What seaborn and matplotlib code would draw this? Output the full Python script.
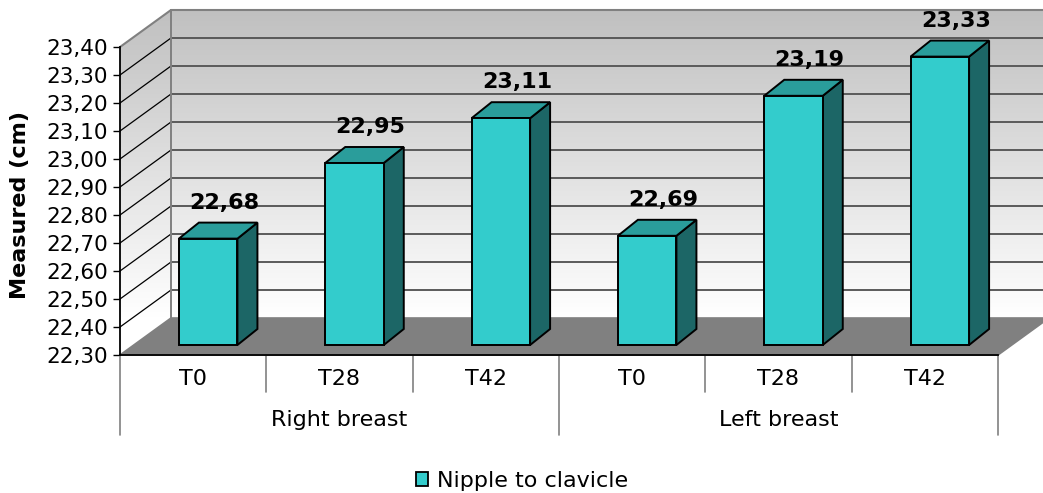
import numpy as np
import pandas as pd
import matplotlib
matplotlib.use("Agg")
import matplotlib.pyplot as plt
import seaborn as sns
from matplotlib.patches import Polygon, Patch
from matplotlib.lines import Line2D
from matplotlib.colors import LinearSegmentedColormap

# ---------------- data ----------------
groups = ["Right breast", "Left breast"]
timepoints = ["T0", "T28", "T42"]
nipple_to_clavicle = [22.68, 22.95, 23.11, 22.69, 23.19, 23.33]
y_ticks = [22.30, 22.40, 22.50, 22.60, 22.70, 22.80, 22.90,
           23.00, 23.10, 23.20, 23.30, 23.40]
series_name = "Nipple to clavicle"
y_label = "Measured (cm)"

# ---------------- style ----------------
sns.set_theme(style="white")
plt.rcParams["font.family"] = ["DejaVu Sans"]

FRONT = "#33CCCC"
TOP = "#2A9D9B"
SIDE = "#1C6666"
EDGE_LW = 1.4

W, H = 1043, 493
fig = plt.figure(figsize=(W / 100, H / 100), dpi=100)
px_l, px_r, px_b, px_t = 120, 998, 355, 47
ax = fig.add_axes([px_l / W, 1 - px_b / H, (px_r - px_l) / W, (px_b - px_t) / H])

n = len(groups) * len(timepoints)
ymin, ymax = y_ticks[0], y_ticks[-1]
xl, xr = -0.5, n - 0.5
sx = (xr - xl) / (px_r - px_l)
sy = (ymax - ymin) / (px_b - px_t)


def off(x, y, px, py):
    return (x + px * sx, y + py * sy)


DEPTH = (51, 37)
BAR_FRONT = (15, 10)
BAR_SIDE = (20, 16)

df = pd.DataFrame({
    "group": [g for g in groups for _ in timepoints],
    "time": timepoints * len(groups),
    "value": nipple_to_clavicle,
})
df["key"] = df["group"] + " " + df["time"]

# ---------------- bars (seaborn) ----------------
sns.barplot(data=df, x="key", y="value", order=list(df["key"]), color=FRONT,
            saturation=1, width=0.4, edgecolor="black", linewidth=EDGE_LW,
            errorbar=None, ax=ax, zorder=5)
bars = list(ax.containers[0])

# ---------------- walls ----------------
yb_back = ymin + DEPTH[1] * sy
yt_back = ymax + DEPTH[1] * sy
x_back_r = xr + DEPTH[0] * sx
ys = np.linspace(ymin, yt_back, 400)
grad = np.clip((ys - yb_back) / (yt_back - yb_back), 0, 1).reshape(-1, 1)
cmap = LinearSegmentedColormap.from_list("wall", ["#FFFFFF", "#C0C0C0"])
im = ax.imshow(grad, extent=(xl, x_back_r, ymin, yt_back), origin="lower",
               aspect="auto", cmap=cmap, vmin=0, vmax=1, zorder=0.5,
               interpolation="bilinear")
wall = Polygon([(xl, ymin), (xl, ymax), off(xl, ymax, *DEPTH),
                off(xr, ymax, *DEPTH), off(xr, ymin, *DEPTH),
                off(xl, ymin, *DEPTH)], closed=True, transform=ax.transData,
               fc="none", ec="none")
im.set_clip_box(fig.bbox)
im.set_clip_path(wall)

# gridlines
for t in y_ticks[1:]:
    a = off(xl, t, *DEPTH)
    b = off(xr, t, *DEPTH)
    ax.add_line(Line2D([a[0], b[0]], [a[1], b[1]], color="#5A5A5A", lw=1.4,
                       zorder=1, clip_on=False))
for t in y_ticks[1:-1]:
    a = off(xl, t, *DEPTH)
    ax.add_line(Line2D([xl, a[0]], [t, a[1]], color="black", lw=0.9,
                       zorder=1, clip_on=False))
# wall edges
p1 = off(xl, ymax, *DEPTH)
p2 = off(xr, ymax, *DEPTH)
p3 = off(xl, ymin, *DEPTH)
ax.add_line(Line2D([xl, p1[0], p2[0]], [ymax, p1[1], p2[1]], color="#808080",
                   lw=1.5, zorder=1.2, clip_on=False))
ax.add_line(Line2D([p3[0], p1[0]], [p3[1], p1[1]], color="#808080",
                   lw=1.4, zorder=1.2, clip_on=False))

# floor
floor = Polygon([(xl, ymin), (xr, ymin), off(xr, ymin, *DEPTH),
                 off(xl, ymin, *DEPTH)], closed=True, fc="#808080",
                ec="#808080", lw=1.2, zorder=2, clip_on=False)
ax.add_patch(floor)

# ---------------- 3D bar faces + labels ----------------
for p, v in zip(bars, df["value"]):
    w = p.get_width()
    x0 = p.get_x() + BAR_FRONT[0] * sx
    y0 = ymin + BAR_FRONT[1] * sy
    p.set_x(x0)
    p.set_y(y0)
    p.set_height(v - ymin)
    p.set_clip_on(False)
    top = y0 + (v - ymin)
    side = Polygon([(x0 + w, y0), (x0 + w, top), off(x0 + w, top, *BAR_SIDE),
                    off(x0 + w, y0, *BAR_SIDE)], closed=True, fc=SIDE,
                   ec="black", lw=EDGE_LW, zorder=4.8, clip_on=False,
                   joinstyle="miter")
    topf = Polygon([(x0, top), (x0 + w, top), off(x0 + w, top, *BAR_SIDE),
                    off(x0, top, *BAR_SIDE)], closed=True, fc=TOP,
                   ec="black", lw=EDGE_LW, zorder=4.8, clip_on=False,
                   joinstyle="miter")
    ax.add_patch(side)
    ax.add_patch(topf)
    ax.annotate(f"{v:.2f}".replace(".", ","), xy=(x0 + w / 2, top),
                xytext=(16, 36), textcoords="offset pixels", ha="center",
                va="center", fontsize=16, fontweight="bold", color="black",
                annotation_clip=False, zorder=6)

# ---------------- axes ----------------
ax.set_xlim(xl, xr)
ax.set_ylim(ymin, ymax)
ax.patch.set_visible(False)
for s in ["top", "right"]:
    ax.spines[s].set_visible(False)
for s in ["left", "bottom"]:
    ax.spines[s].set_color("black")
    ax.spines[s].set_linewidth(1.3)
    ax.spines[s].set_zorder(3)

ax.set_yticks(y_ticks)
ax.set_yticklabels([f"{t:.2f}".replace(".", ",") for t in y_ticks])
ax.tick_params(axis="y", left=True, length=5, width=1, color="black",
               direction="out", pad=3.5, labelsize=15.5, labelcolor="black")
ax.set_xticks(range(n))
ax.set_xticklabels(list(df["time"]))
ax.tick_params(axis="x", bottom=True, length=0, pad=10, labelsize=16,
               labelcolor="black")
ax.set_xlabel("")
ax.set_ylabel(y_label, fontsize=16, fontweight="bold", color="black")
ax.yaxis.set_label_coords((30 - px_l) / (px_r - px_l), (px_b - 205) / (px_b - px_t))

# category separators
trans = ax.get_xaxis_transform()
short = -(392 - px_b) / (px_b - px_t)
long_ = -(435 - px_b) / (px_b - px_t)
ng = len(timepoints)
for i in range(n + 1):
    xs = xl + i
    y_end = long_ if i % ng == 0 else short
    ax.add_line(Line2D([xs, xs], [0, y_end], transform=trans, color="#808080",
                       lw=1.2, clip_on=False))
for gi, g in enumerate(groups):
    ax.text(gi * ng + (ng - 1) / 2, -(420 - px_b) / (px_b - px_t), g,
            transform=trans, ha="center", va="center", fontsize=16,
            color="black")

# legend
handle = Patch(facecolor=FRONT, edgecolor="black", linewidth=1.3, label=series_name)
fig.legend(handles=[handle], loc="center", bbox_to_anchor=(522 / W, 1 - 481 / H),
           frameon=False, fontsize=16, handlelength=0.55, handleheight=0.55,
           handletextpad=0.4, labelcolor="black")

fig.savefig("out.png", dpi=100)
